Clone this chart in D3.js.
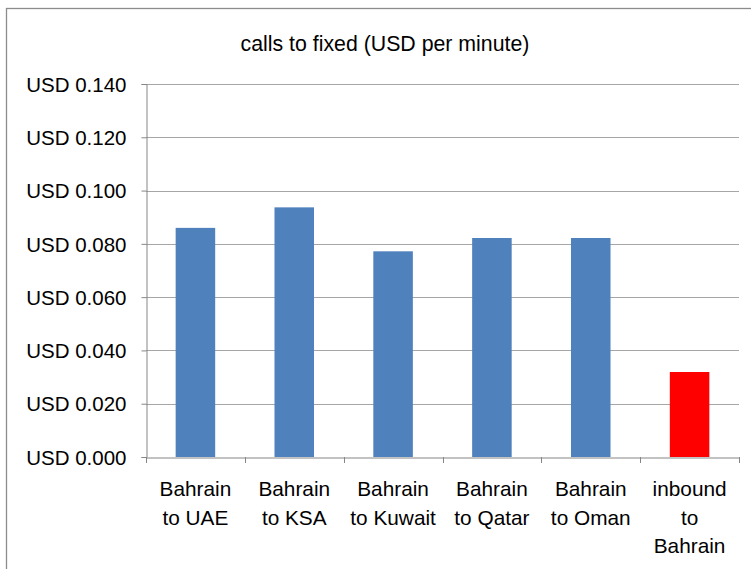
<!DOCTYPE html>
<html>
<head>
<meta charset="utf-8">
<script src="https://cdn.jsdelivr.net/npm/d3@7"></script>
<style>
  body { margin: 0; background: #fff; }
  svg text { font-family: "Liberation Sans", Arial, sans-serif; fill: #000; }
</style>
</head>
<body>
<svg width="751" height="569"></svg>
<script>
var categories = [
  ["Bahrain", "to UAE"],
  ["Bahrain", "to KSA"],
  ["Bahrain", "to Kuwait"],
  ["Bahrain", "to Qatar"],
  ["Bahrain", "to Oman"],
  ["inbound", "to", "Bahrain"]
]
var values = [0.086, 0.0937, 0.0772, 0.0822, 0.0822, 0.0319]
var barColors = ["#4F81BD", "#4F81BD", "#4F81BD", "#4F81BD", "#4F81BD", "#FF0000"]
var yTicks = [0, 0.02, 0.04, 0.06, 0.08, 0.10, 0.12, 0.14]
var title = "calls to fixed (USD per minute)"

var svg = d3.select("svg")
var plotLeft = 146, plotRight = 739, plotTop = 84, plotBottom = 457

// chart border
svg.append("rect")
  .attr("x", 6.5).attr("y", 8.5)
  .attr("width", 780).attr("height", 600)
  .attr("fill", "none")
  .attr("stroke", "#8c8c8c")
  .attr("stroke-width", 1.3)

svg.append("text")
  .attr("x", 385).attr("y", 51)
  .attr("text-anchor", "middle")
  .attr("font-size", "21.3px")
  .text(title)

var keys = categories.map(function(d, i) { return i; })

var x = d3.scaleBand().domain(keys).range([plotLeft, plotRight]).paddingInner(0.6).paddingOuter(0.3)
var xb = d3.scaleBand().domain(keys).range([plotLeft, plotRight])
var y = d3.scaleLinear().domain([0, 0.14]).range([plotBottom, plotTop])

// gridlines
svg.append("g")
  .selectAll("line")
  .data(yTicks.slice(1))
  .enter().append("line")
  .attr("x1", plotLeft).attr("x2", plotRight)
  .attr("y1", function(d) { return Math.round(y(d)) + 0.5; })
  .attr("y2", function(d) { return Math.round(y(d)) + 0.5; })
  .attr("stroke", "#a6a6a6")
  .attr("stroke-width", 1.2)

// bars
svg.append("g")
  .selectAll("rect")
  .data(values)
  .enter().append("rect")
  .attr("x", function(d, i) { return x(i); })
  .attr("y", function(d) { return y(d); })
  .attr("width", x.bandwidth())
  .attr("height", function(d) { return plotBottom - y(d); })
  .attr("fill", function(d, i) { return barColors[i]; })

// y axis
var yAxis = svg.append("g")
  .attr("transform", "translate(" + (plotLeft + 0.5) + ",0)")
  .call(d3.axisLeft(y).tickValues(yTicks).tickSize(5).tickPadding(15)
    .tickFormat(function(d) { return "USD " + d3.format(".3f")(d); }))
yAxis.selectAll("text").attr("font-size", "20.5px").attr("dy", "0.35em")
yAxis.selectAll("line, path").attr("stroke", "#868686")

// x axis
var xAxis = svg.append("g")
  .attr("transform", "translate(0," + (plotBottom + 0.5) + ")")
  .call(d3.axisBottom(xb).tickSize(0).tickFormat(""))
xAxis.select("path").attr("stroke", "#868686")
xAxis.selectAll(".tick").remove()

svg.append("g")
  .selectAll("line")
  .data(keys.concat([keys.length]))
  .enter().append("line")
  .attr("x1", function(d) { return Math.round(plotLeft + d * xb.step()) + 0.5; })
  .attr("x2", function(d) { return Math.round(plotLeft + d * xb.step()) + 0.5; })
  .attr("y1", plotBottom).attr("y2", plotBottom + 6)
  .attr("stroke", "#868686")

// category labels
var lab = svg.append("g")
  .selectAll("text")
  .data(categories)
  .enter().append("text")
  .attr("text-anchor", "middle")
  .attr("font-size", "20.8px")
  .attr("x", function(d, i) { return xb(i) + xb.bandwidth() / 2; })
  .attr("y", 496)

lab.selectAll("tspan")
  .data(function(d) { return d; })
  .enter().append("tspan")
  .attr("x", function() { return d3.select(this.parentNode).attr("x"); })
  .attr("dy", function(d, i) { return i == 0 ? 0 : 28.5; })
  .text(function(d) { return d; })
</script>
</body>
</html>
